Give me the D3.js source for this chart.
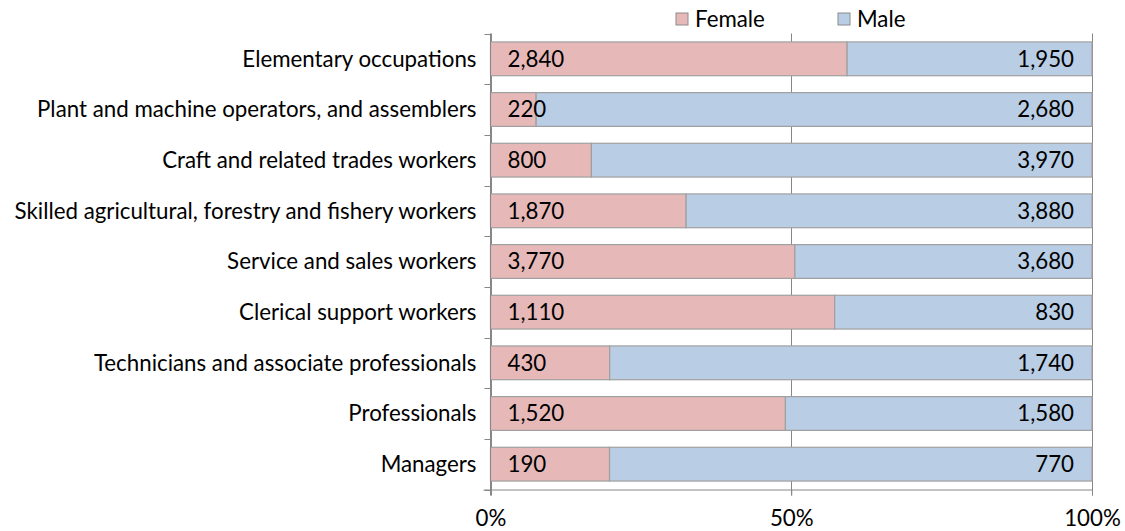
<!DOCTYPE html>
<html>
<head>
<meta charset="utf-8">
<script src="https://cdn.jsdelivr.net/npm/d3@7/dist/d3.min.js"></script>
<style>
  html, body { margin: 0; padding: 0; background: #fff; }
  svg text { font-family: Lato, "Open Sans", sans-serif; fill: #000; }
</style>
</head>
<body>
<svg id="chart" width="1125" height="531"></svg>
<script>
// Employment by occupation and sex (thousands)
const categories = [
  "Elementary occupations",
  "Plant and machine operators, and assemblers",
  "Craft and related trades workers",
  "Skilled agricultural, forestry and fishery workers",
  "Service and sales workers",
  "Clerical support workers",
  "Technicians and associate professionals",
  "Professionals",
  "Managers"
];
const female = [2840, 220, 800, 1870, 3770, 1110, 430, 1520, 190];
const male   = [1950, 2680, 3970, 3880, 3680, 830, 1740, 1580, 770];
const seriesNames = ["Female", "Male"];
const tickValues = [0, 0.5, 1];

const colors = { Female: "#E6B9B8", Male: "#B9CDE5" };
const fontSize = 22.3;

const svg = d3.select("#chart");
const margin = { left: 490.5, right: 1092, top: 33.5, bottom: 489.5 };

const rows = categories.map((c, i) => {
  const total = female[i] + male[i];
  return { category: c, Female: female[i], Male: male[i], total };
});

const x = d3.scaleLinear().domain([0, 1]).range([margin.left, margin.right]);
const y = d3.scaleBand().domain(categories).range([margin.top, margin.bottom])
  .paddingInner(1 / 3).paddingOuter(1 / 6);

const stack = d3.stack().keys(seriesNames)
  .value((d, k) => d[k] / d.total);
const layers = stack(rows);

// vertical gridlines
svg.append("g").selectAll("line").data(tickValues).join("line")
  .attr("x1", d => Math.round(x(d)) + 0.5).attr("x2", d => Math.round(x(d)) + 0.5)
  .attr("y1", margin.top).attr("y2", margin.bottom + 6)
  .attr("stroke", "#878787").attr("stroke-width", 1);

// bars
const gBars = svg.append("g");
layers.forEach(layer => {
  gBars.append("g").selectAll("rect").data(layer).join("rect")
    .attr("x", d => x(d[0]))
    .attr("width", d => x(d[1]) - x(d[0]))
    .attr("y", d => y(d.data.category))
    .attr("height", y.bandwidth())
    .attr("fill", colors[layer.key])
    .attr("stroke", "#A0A0A0")
    .attr("stroke-width", 1.2);
});

// value labels
const fmt = d3.format(",");
svg.append("g").selectAll("text").data(rows).join("text")
  .attr("x", x(0) + 17)
  .attr("y", d => y(d.category) + y.bandwidth() / 2)
  .attr("dy", "0.35em")
  .attr("font-size", fontSize)
  .text(d => fmt(d.Female));
svg.append("g").selectAll("text").data(rows).join("text")
  .attr("x", x(1) - 18)
  .attr("y", d => y(d.category) + y.bandwidth() / 2)
  .attr("dy", "0.35em")
  .attr("text-anchor", "end")
  .attr("font-size", fontSize)
  .text(d => fmt(d.Male));

// left axis: line + ticks at category boundaries
const axisG = svg.append("g");
axisG.append("line")
  .attr("x1", margin.left).attr("x2", margin.left)
  .attr("y1", margin.top).attr("y2", margin.bottom + 6)
  .attr("stroke", "#878787");
const step = y.step();
d3.range(categories.length + 1).forEach(i => {
  const yy = Math.round(margin.top + i * step) + 0.5;
  axisG.append("line")
    .attr("x1", margin.left - 6).attr("x2", margin.left)
    .attr("y1", yy).attr("y2", yy).attr("stroke", "#878787");
});
axisG.selectAll("text.cat").data(categories).join("text")
  .attr("class", "cat")
  .attr("x", margin.left - 14)
  .attr("y", d => y(d) + y.bandwidth() / 2)
  .attr("dy", "0.35em")
  .attr("text-anchor", "end")
  .attr("font-size", fontSize)
  .text(d => d);

// bottom axis
const xAxis = d3.axisBottom(x).tickValues(tickValues)
  .tickFormat(d3.format(".0%")).tickSize(6).tickPadding(14.5);
const gx = svg.append("g").attr("transform", `translate(0,${margin.bottom})`).call(xAxis);
gx.select(".domain").attr("stroke", "#878787")
  .attr("d", `M${margin.left - 7},0.5H${margin.right}`);
gx.selectAll(".tick line").attr("stroke", "#878787");
gx.selectAll(".tick text").attr("font-size", fontSize).attr("font-family", "Lato, 'Open Sans', sans-serif").attr("fill", "#000");

// legend
const legendItems = [
  { name: "Female", x: 676 },
  { name: "Male", x: 838 }
];
const lg = svg.append("g");
legendItems.forEach(it => {
  lg.append("rect").attr("x", it.x).attr("y", 13).attr("width", 12).attr("height", 12)
    .attr("fill", colors[it.name]).attr("stroke", "#8c8c8c");
  lg.append("text").attr("x", it.x + 19).attr("y", 19).attr("dy", "0.35em")
    .attr("font-size", fontSize).text(it.name);
});
</script>
</body>
</html>
